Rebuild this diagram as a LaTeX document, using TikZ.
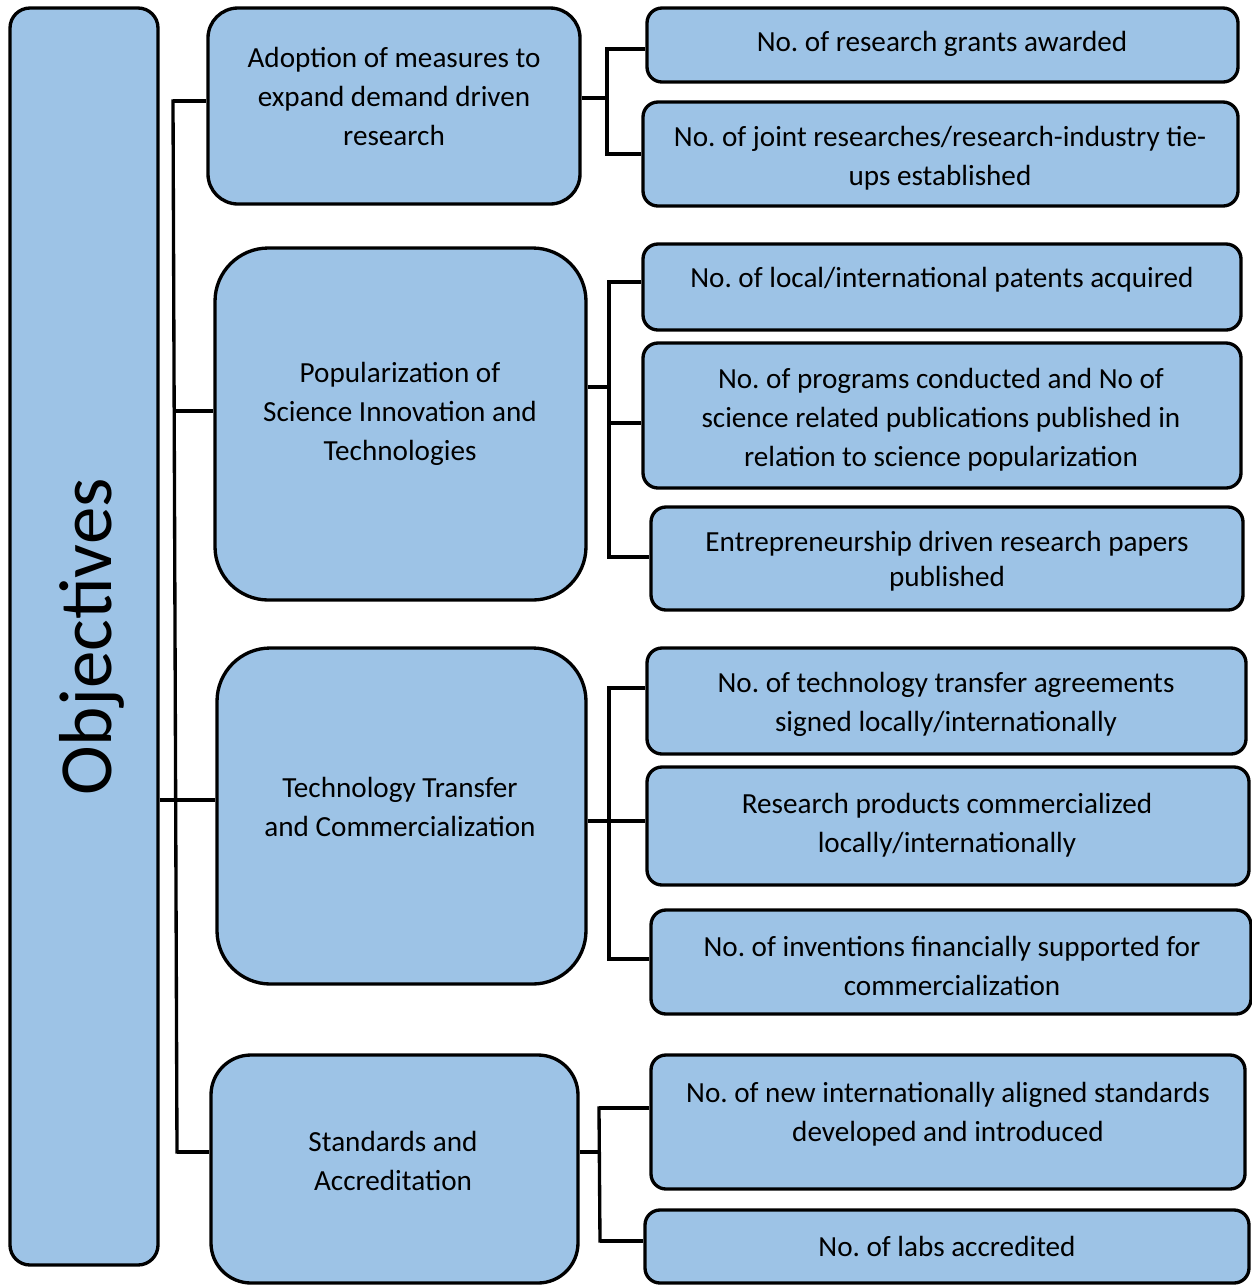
\documentclass[tikz,border=0pt]{standalone}
\usepackage{fontspec}
\setmainfont{Carlito}
\frenchspacing
\usetikzlibrary{fit}
\definecolor{boxblue}{HTML}{9DC3E6}
\tikzset{
 box/.style={draw=black, line width=2pt, fill=boxblue, inner sep=0pt, rounded corners=9pt},
 midbox/.style={box, rounded corners=22pt},
 txt/.style={align=center, font=\fontsize{17.5}{23.4}\selectfont, inner sep=0pt, yshift=-1.2pt},
 conn/.style={draw=black, line width=2pt},
}
\begin{document}
\begin{tikzpicture}[x=0.6pt,y=-0.6pt]
\useasboundingbox (0,0) rectangle (1252,1286);
% Objectives
\node[box, rounded corners=12pt, fit={(10,8) (158,1265)}] (obj) {};
\node[rotate=90, anchor=base, inner sep=0pt, font=\fontsize{45}{50}\selectfont] (objt) at (112,637) {Objectives};
% middle boxes
\node[midbox, rounded corners=18pt, fit={(208,8) (580,204)}] (m1) {};
\node[txt] (m1t) at (394,94) {Adoption of measures to\\expand demand driven\\research};
\node[midbox, rounded corners=32pt, fit={(215,248) (586,600)}] (m2) {};
\node[txt] (m2t) at (400,412) {Popularization of\\Science Innovation and\\Technologies};
\node[midbox, rounded corners=32pt, fit={(217,648) (586,984)}] (m3) {};
\node[txt] (m3t) at (400,805) {Technology Transfer\\and Commercialization};
\node[midbox, rounded corners=24pt, fit={(211,1055) (578,1283)}] (m4) {};
\node[txt] (m4t) at (393,1159) {Standards and\\Accreditation};
% right boxes
\node[box, fit={(647,8) (1238,82)}] (r1) {};
\node[txt] (r1t) at (942,42) {No. of research grants awarded};
\node[box, fit={(643,102) (1238,206)}] (r2) {};
\node[txt] (r2t) at (940,156) {No. of joint researches/research-industry tie-\\ups established};
\node[box, fit={(643,244) (1241,330)}] (r3) {};
\node[txt] (r3t) at (942,278) {No. of local/international patents acquired};
\node[box, fit={(643,343) (1241,488)}] (r4) {};
\node[txt] (r4t) at (941,418) {No. of programs conducted and No of\\science related publications published in\\relation to science popularization};
\node[box, fit={(651,507) (1243,610)}] (r5) {};
\node[txt, font=\fontsize{17.5}{21}\selectfont] (r5t) at (947,559) {Entrepreneurship driven research papers\\published};
\node[box, fit={(647,648) (1246,754)}] (r6) {};
\node[txt] (r6t) at (946,702) {No. of technology transfer agreements\\signed locally/internationally};
\node[box, fit={(647,767) (1249,885)}] (r7) {};
\node[txt] (r7t) at (947,823) {Research products commercialized\\locally/internationally};
\node[box, fit={(651,910) (1251,1014)}] (r8) {};
\node[txt] (r8t) at (952,964) {No. of inventions financially supported for\\commercialization};
\node[box, fit={(651,1055) (1245,1189)}] (r9) {};
\node[txt] (r9t) at (948,1112) {No. of new internationally aligned standards\\developed and introduced};
\node[box, fit={(645,1210) (1249,1283)}] (r10) {};
\node[txt] (r10t) at (947,1244) {No. of labs accredited};
% left connectors
\coordinate (lb1) at (173,101);
\coordinate (lb2) at (174,411);
\coordinate (lb3) at (176,800);
\coordinate (lb4) at (177,1152);
\draw[conn, line cap=rect] (lb1) -- (lb4);
\draw[conn] (lb1) -- (lb1 -| m1.west);
\draw[conn] (lb2) -- (lb2 -| m2.west);
\draw[conn] (obj.east |- lb3) -- (lb3 -| m3.west);
\draw[conn] (lb4) -- (lb4 -| m4.west);
% group 1
\coordinate (g1a) at (607,49);
\coordinate (g1m) at (607,98);
\coordinate (g1b) at (607,154);
\draw[conn] (m1.east |- g1m) -- (g1m);
\draw[conn, line cap=rect] (g1a) -- (g1b);
\draw[conn] (g1a) -- (g1a -| r1.west);
\draw[conn] (g1b) -- (g1b -| r2.west);
% group 2
\coordinate (g2a) at (609,282);
\coordinate (g2m) at (609,387);
\coordinate (g2c) at (609,423);
\coordinate (g2b) at (609,557);
\draw[conn] (m2.east |- g2m) -- (g2m);
\draw[conn, line cap=rect] (g2a) -- (g2b);
\draw[conn] (g2a) -- (g2a -| r3.west);
\draw[conn] (g2c) -- (g2c -| r4.west);
\draw[conn] (g2b) -- (g2b -| r5.west);
% group 3
\coordinate (g3a) at (609,688);
\coordinate (g3m) at (609,821);
\coordinate (g3b) at (609,959);
\draw[conn] (m3.east |- g3m) -- (g3m -| r7.west);
\draw[conn, line cap=rect] (g3a) -- (g3b);
\draw[conn] (g3a) -- (g3a -| r6.west);
\draw[conn] (g3b) -- (g3b -| r8.west);
% group 4
\coordinate (g4a) at (599,1108);
\coordinate (g4m) at (599,1152);
\coordinate (g4b) at (600,1241);
\draw[conn] (m4.east |- g4m) -- (g4m);
\draw[conn, line cap=rect] (g4a) -- (g4b);
\draw[conn] (g4a) -- (g4a -| r9.west);
\draw[conn] (g4b) -- (g4b -| r10.west);
\end{tikzpicture}
\end{document}
